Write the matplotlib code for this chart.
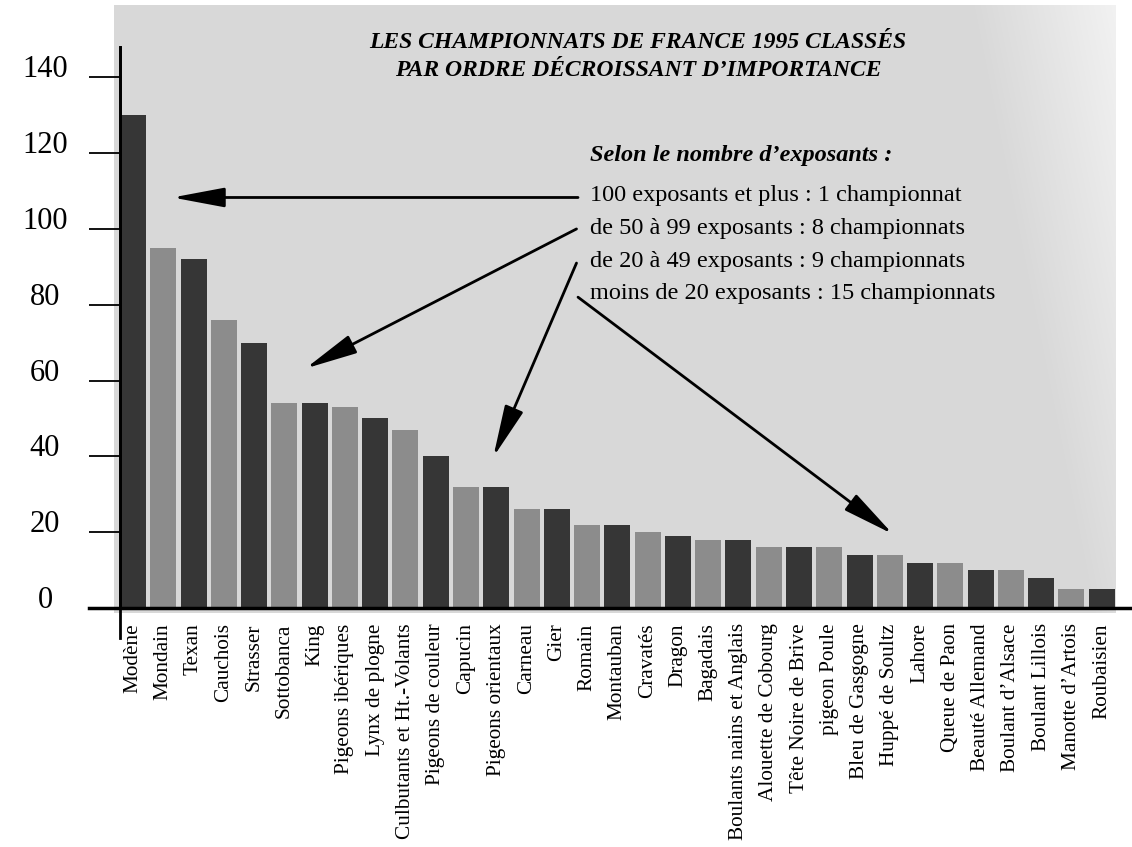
import numpy as np
import matplotlib
matplotlib.use("Agg")
import matplotlib.pyplot as plt
import matplotlib.transforms as mtransforms

plt.rcParams['font.family'] = ['Liberation Serif', 'DejaVu Serif']

races = ["Modène", "Mondain", "Texan", "Cauchois", "Strasser", "Sottobanca", "King",
         "Pigeons ibériques", "Lynx de plogne", "Culbutants et Ht.-Volants",
         "Pigeons de couleur", "Capucin", "Pigeons orientaux", "Carneau", "Gier",
         "Romain", "Montauban", "Cravatés", "Dragon", "Bagadais",
         "Boulants nains et Anglais", "Alouette de Cobourg", "Tête Noire de Brive",
         "pigeon Poule", "Bleu de Gasgogne", "Huppé de Soultz", "Lahore",
         "Queue de Paon", "Beauté Allemand", "Boulant d\u2019Alsace", "Boulant Lillois",
         "Manotte d\u2019Artois", "Roubaisien"]
exposants = [130, 95, 92, 76, 70, 54, 54, 53, 50, 47,
             40, 32, 32, 26, 26, 22, 22, 20, 19, 18,
             18, 16, 16, 16, 14, 14, 12, 12, 10, 10,
             8, 5, 5]
yticks = [0, 20, 40, 60, 80, 100, 120, 140]

title_lines = ["LES CHAMPIONNATS DE FRANCE 1995 CLASSÉS",
               "PAR ORDRE DÉCROISSANT D\u2019IMPORTANCE"]
legend_head = "Selon le nombre d\u2019exposants :"
legend_lines = ["100 exposants et plus : 1 championnat",
                "de 50 à 99 exposants : 8 championnats",
                "de 20 à 49 exposants : 9 championnats",
                "moins de 20 exposants : 15 championnats"]

W, H = 1132, 847
fig = plt.figure(figsize=(W / 100, H / 100), dpi=100)

# grey background panel, lighter toward the right edge
bg = fig.add_axes([0, 0, 1, 1], zorder=0)
bg.set_xlim(0, W)
bg.set_ylim(H, 0)
bg.axis('off')
xx, yy = np.meshgrid(np.arange(W), np.arange(H))
fade = np.clip((1190 - xx + 0.2 * (yy - 5)) / 220.0, 0.3, 1)
inside = (xx >= 114) & (xx <= 1115) & (yy >= 5) & (yy <= 612)
img = np.ones((H, W, 4))
img[..., :3] = 0.85
img[..., 3] = np.where(inside, fade, 0)
bg.imshow(img, extent=(0, W, H, 0), interpolation='bilinear')

ax = fig.add_axes([120 / W, 1 - 608 / H, 1 - 120 / W, 561 / H], zorder=1)
ax.patch.set_alpha(0)

x = np.arange(len(races))
colors = ['#363636' if i % 2 == 0 else '#8c8c8c' for i in range(len(races))]
ax.bar(x, exposants, width=0.86, color=colors, zorder=2)

ax.set_xlim(-0.43, 33.0)
ax.set_ylim(0, 148)

for s in ['top', 'right', 'bottom']:
    ax.spines[s].set_visible(False)
ax.spines['left'].set_linewidth(2)
ax.axhline(0, xmin=-0.031, xmax=1, color='black', lw=2.5, clip_on=False, zorder=3)
ax.axvline(-0.43, ymin=-0.054, ymax=1, color='black', lw=2, clip_on=False, zorder=3)

ax.set_yticks(yticks)
ax.set_yticklabels([str(v) for v in yticks], fontsize=22, ha='center')
ax.tick_params(axis='y', length=22, width=1.3, pad=32)
lift = mtransforms.ScaledTranslation(0, 11 / 100, fig.dpi_scale_trans)
for lab in ax.get_yticklabels():
    lab.set_transform(lab.get_transform() + lift)

ax.set_xticks(x)
ax.set_xticklabels(races, rotation=90, fontsize=15.3, va='top')
ax.tick_params(axis='x', length=0, pad=11)

for i, line in enumerate(title_lines):
    fig.text(638 / W, 1 - (42 + 29 * i) / H, line, ha='center', va='center', fontsize=17,
             fontweight='bold', fontstyle='italic')
fig.text(590 / W, 1 - 156 / H, legend_head, ha='left', va='center', fontsize=17.5,
         fontweight='bold', fontstyle='italic')
for i, line in enumerate(legend_lines):
    fig.text(590 / W, 1 - (196 + 32.5 * i) / H, line, ha='left', va='center', fontsize=17.5)

# each arrow leaves from the left of its legend line
arrows = [((14.7, 108.3), (1.3, 108.3)),
          ((14.65, 100.0), (5.7, 63.2)),
          ((14.65, 91.0), (11.9, 39.8)),
          ((14.7, 82.0), (25.1, 19.5))]
for start, tip in arrows:
    ax.annotate('', xy=tip, xytext=start, zorder=4,
                arrowprops=dict(arrowstyle='-|>,head_length=1.6,head_width=0.3',
                                mutation_scale=20, lw=2, color='black',
                                shrinkA=0, shrinkB=0))

fig.savefig('out.png', dpi=100)
